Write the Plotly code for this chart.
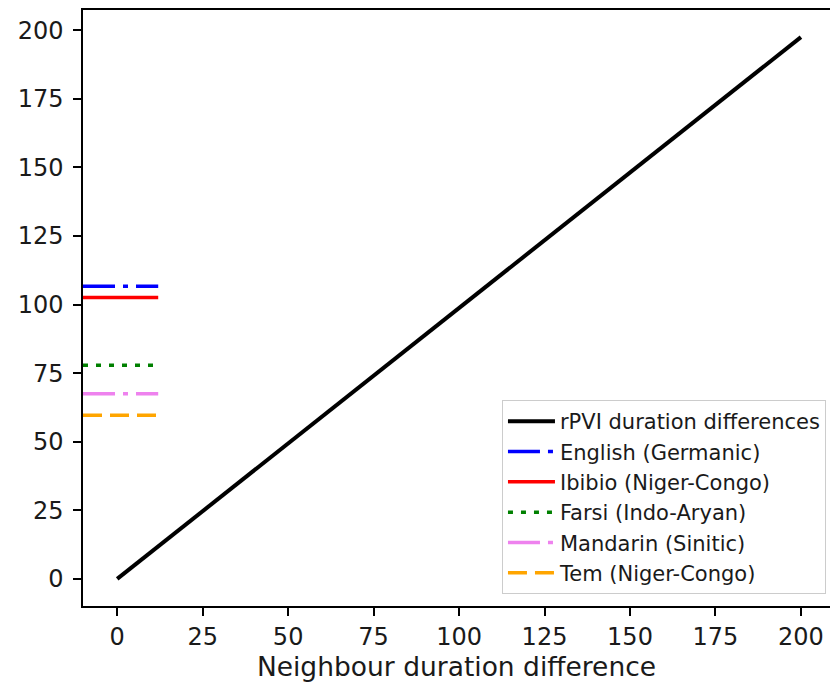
import plotly.graph_objects as go

# Reference line: rPVI value as a function of neighbour duration difference
diff_x = [0, 200]
rpvi_y = [0, 197.5]

# Mean rPVI per language
languages = [
    "English (Germanic)",
    "Ibibio (Niger-Congo)",
    "Farsi (Indo-Aryan)",
    "Mandarin (Sinitic)",
    "Tem (Niger-Congo)",
]
lang_rpvi = [106.7, 102.6, 77.9, 67.5, 59.7]
lang_colors = ["#0000ff", "#ff0000", "#008000", "#ee82ee", "#ffa500"]
lang_dash = ["32px,8px,5px,8px", "solid", "5px,8px", "32px,8px,5px,8px", "19px,8px"]

x_ticks = [0, 25, 50, 75, 100, 125, 150, 175, 200]
y_ticks = [0, 25, 50, 75, 100, 125, 150, 175, 200]

# Axis limits with 5% padding around the data
x_lo, x_hi = min(diff_x), max(diff_x)
x_pad = 0.05 * (x_hi - x_lo)
x_min, x_max = x_lo - x_pad, x_hi + x_pad
y_lo, y_hi = min(rpvi_y), max(rpvi_y)
y_pad = 0.05 * (y_hi - y_lo)
y_min, y_max = y_lo - y_pad, y_hi + y_pad

# Language markers span the first tenth of the x axis
mark_end = x_min + 0.1 * (x_max - x_min)

FONT = "DejaVu Sans"

fig = go.Figure()
fig.add_trace(go.Scatter(
    x=diff_x, y=rpvi_y, mode="lines",
    line=dict(color="black", width=4),
    name="rPVI duration differences", legendgroup="g0",
))
for i, (name, val, col, dash) in enumerate(zip(languages, lang_rpvi, lang_colors, lang_dash)):
    fig.add_trace(go.Scatter(
        x=[x_min, mark_end], y=[val, val], mode="lines",
        line=dict(color=col, width=3.5, dash=dash),
        name=name, legendgroup=f"g{i+1}",
    ))

axis_common = dict(
    showgrid=False, zeroline=False, showline=True, linecolor="black", linewidth=1.5,
    ticks="outside", ticklen=8, tickwidth=1.5, tickcolor="black",
    tickfont=dict(family=FONT, size=24, color="#1a1a1a"),
)

fig.update_layout(
    width=830, height=686,
    margin=dict(l=83, r=0, t=10, b=80),
    plot_bgcolor="white", paper_bgcolor="white",
    font=dict(family=FONT, color="#1a1a1a"),
    showlegend=True,
    legend=dict(
        x=0.9946, y=0.02, xanchor="right", yanchor="bottom",
        bgcolor="rgba(255,255,255,0.85)", bordercolor="#cccccc", borderwidth=1,
        font=dict(family=FONT, size=21, color="#1a1a1a"),
        tracegroupgap=0, itemwidth=47,
    ),
    xaxis=dict(
        range=[x_min, 208.5], tickvals=x_ticks, mirror=True,
        title=dict(text="Neighbour duration difference", font=dict(family=FONT, size=26.5, color="#1a1a1a"), standoff=6),
        **axis_common,
    ),
    yaxis=dict(
        range=[y_min, y_max], tickvals=y_ticks, ticklabelstandoff=5,
        **axis_common,
    ),
)

fig.write_html("out.html")
